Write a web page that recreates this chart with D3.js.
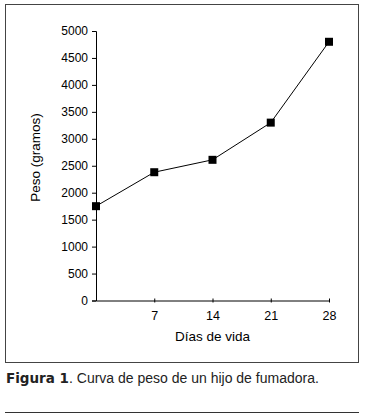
<!DOCTYPE html>
<html><head><meta charset="utf-8">
<script src="https://cdn.jsdelivr.net/npm/d3@7"></script>
<style>body{margin:0;background:#fff}svg{display:block}</style>
</head><body>
<script>
const days = [0, 7, 14, 21, 28];
const weights = [1750, 2380, 2610, 3300, 4800];
const xTicks = [7, 14, 21, 28];
const yTicks = [0, 500, 1000, 1500, 2000, 2500, 3000, 3500, 4000, 4500, 5000];
const xTitle = "Días de vida";
const yTitle = "Peso (gramos)";
const captionBold = "Figura 1";
const captionRest = ". Curva de peso de un hijo de fumadora.";

const W = 366, H = 418;
const svg = d3.select("body").append("svg").attr("width", W).attr("height", H);
svg.append("rect").attr("width", W).attr("height", H).attr("fill", "#fff");

// frame
svg.append("rect").attr("x", 5.5).attr("y", 4.5).attr("width", 353).attr("height", 358)
  .attr("fill", "none").attr("stroke", "#444").attr("stroke-width", 1);

const x = d3.scaleLinear().domain([0, 28]).range([96, 329]);
const y = d3.scaleLinear().domain([0, 5000]).range([300.5, 31]);

const font = "'Liberation Sans', Arial, sans-serif";

// y axis
const ya = svg.append("g").attr("transform", "translate(96,0)")
  .call(d3.axisLeft(y).tickValues(yTicks).tickSize(4).tickPadding(4).tickFormat(d3.format("d")));
ya.select(".domain").attr("stroke", "#000");
ya.selectAll("line").attr("stroke", "#000");
ya.selectAll("text").attr("font-family", font).attr("font-size", 12).attr("fill", "#000");

// x axis
const xa = svg.append("g").attr("transform", "translate(0,300.5)")
  .call(d3.axisBottom(x).tickValues(xTicks).tickSize(3).tickPadding(7.5).tickSizeOuter(0));
xa.select(".domain").attr("stroke", "#000");
xa.selectAll(".tick line").attr("stroke", "#000").attr("y1", -2).attr("y2", 2);
xa.selectAll("text").attr("font-family", font).attr("font-size", 12.5).attr("fill", "#000");

// titles
svg.append("text").attr("x", x(14)).attr("y", 341).attr("text-anchor", "middle")
  .attr("font-family", font).attr("font-size", 13.5).attr("fill", "#000").text(xTitle);
svg.append("text").attr("transform", `translate(40,157.5) rotate(-90)`)
  .attr("text-anchor", "middle").attr("font-family", font).attr("font-size", 13.5).attr("fill", "#000").text(yTitle);

// line
const data = days.map((d, i) => ({d, w: weights[i]}));
svg.append("path").datum(data)
  .attr("d", d3.line().x(p => x(p.d)).y(p => y(p.w)))
  .attr("fill", "none").attr("stroke", "#000").attr("stroke-width", 1);
svg.selectAll("rect.pt").data(data).enter().append("rect").attr("class", "pt")
  .attr("x", p => x(p.d) - 4).attr("y", p => y(p.w) - 4)
  .attr("width", 8).attr("height", 8).attr("fill", "#000");

// caption
const cap = svg.append("text").attr("x", 6).attr("y", 382.5)
  .attr("font-family", font).attr("font-size", 14).attr("fill", "#222");
cap.append("tspan").attr("font-weight", "900").attr("font-family", "'DejaVu Sans', sans-serif").attr("font-size", 13.5).text(captionBold);
cap.append("tspan").text(captionRest);

// bottom rule
svg.append("line").attr("x1", 5).attr("x2", 359).attr("y1", 412.5).attr("y2", 412.5)
  .attr("stroke", "#333").attr("stroke-width", 1);
</script>
</body></html>
